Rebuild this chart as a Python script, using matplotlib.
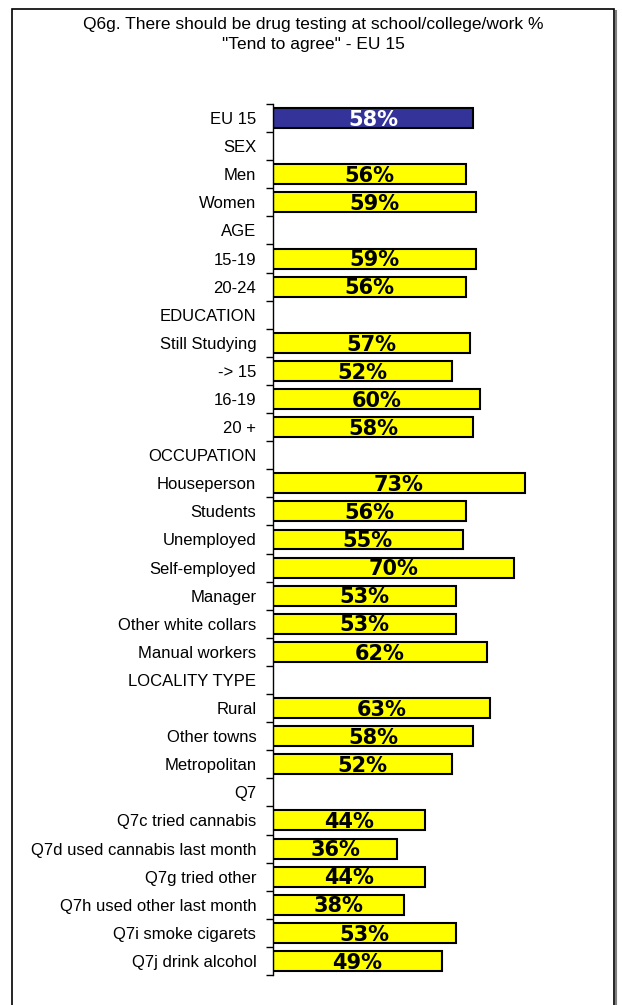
import matplotlib
matplotlib.use('Agg')
import matplotlib.pyplot as plt
from matplotlib.patches import Rectangle
from matplotlib.lines import Line2D

# -------------------- Data --------------------
title_lines = ['Q6g. There should be drug testing at school/college/work %',
               '"Tend to agree" - EU 15']

categories = ['EU 15', 'SEX', 'Men', 'Women', 'AGE', '15-19', '20-24',
              'EDUCATION', 'Still Studying', '-> 15', '16-19', '20 +',
              'OCCUPATION', 'Houseperson', 'Students', 'Unemployed',
              'Self-employed', 'Manager', 'Other white collars', 'Manual workers',
              'LOCALITY TYPE', 'Rural', 'Other towns', 'Metropolitan',
              'Q7', 'Q7c tried cannabis', 'Q7d used cannabis last month',
              'Q7g tried other', 'Q7h used other last month',
              'Q7i smoke cigarets', 'Q7j drink alcohol']

# None = section header row (no bar)
values = [58, None, 56, 59, None, 59, 56,
          None, 57, 52, 60, 58,
          None, 73, 56, 55, 70, 53, 53, 62,
          None, 63, 58, 52,
          None, 44, 36, 44, 38, 53, 49]

BLUE = '#333399'
YELLOW = '#FFFF00'

# -------------------- Figure --------------------
W, H = 622, 1005
fig = plt.figure(figsize=(W / 100, H / 100), dpi=100)

ax_left, ax_right = 273 / W, 600 / W
ax_top, ax_bot = (H - 104) / H, (H - 975) / H
ax = fig.add_axes([ax_left, ax_bot, ax_right - ax_left, ax_top - ax_bot])

px_per_pct = 200 / 58
ax.set_xlim(0, (600 - 273) / px_per_pct)

n = len(categories)
ypos = list(range(n))
ax.set_ylim(n - 0.5, -0.5)

for i, (cat, v) in enumerate(zip(categories, values)):
    if v is None:
        continue
    face = BLUE if i == 0 else YELLOW
    txt = 'white' if i == 0 else 'black'
    ax.barh(i, v, height=0.71, color=face, edgecolor='black', linewidth=1.5)
    ax.text(v / 2, i + 0.06, f'{v}%', ha='center', va='center',
            fontsize=15, fontweight='bold', color=txt, family='DejaVu Sans')

# y axis: labels at rows, tick marks between rows
ax.set_yticks(ypos)
ax.set_yticklabels(categories, family='Liberation Sans', fontsize=12)
ax.tick_params(axis='y', which='major', length=0, pad=12)
ax.set_yticks([k - 0.5 for k in range(n + 1)], minor=True)
ax.tick_params(axis='y', which='minor', length=5, width=1, direction='out')
ax.set_xticks([])

for s in ['top', 'right', 'bottom']:
    ax.spines[s].set_visible(False)
ax.spines['left'].set_linewidth(1)

# title
fig.text(313 / W, 1 - 25 / H, title_lines[0], ha='center', va='center',
         family='Liberation Sans', fontsize=12.5)
fig.text(313 / W, 1 - 44 / H, title_lines[1], ha='center', va='center',
         family='Liberation Sans', fontsize=12.5)

# outer frame with a light shadow on the right
fig.add_artist(Line2D([616 / W, 616 / W], [0, 1 - 11 / H], transform=fig.transFigure,
                      color='#808080', linewidth=1.5))
fig.add_artist(Rectangle((12 / W, -0.01), (614 - 12) / W, 1 - 9 / H + 0.01,
                         transform=fig.transFigure, fill=False,
                         edgecolor='black', linewidth=1.2))

fig.savefig('out.png', dpi=100)
plt.close(fig)
